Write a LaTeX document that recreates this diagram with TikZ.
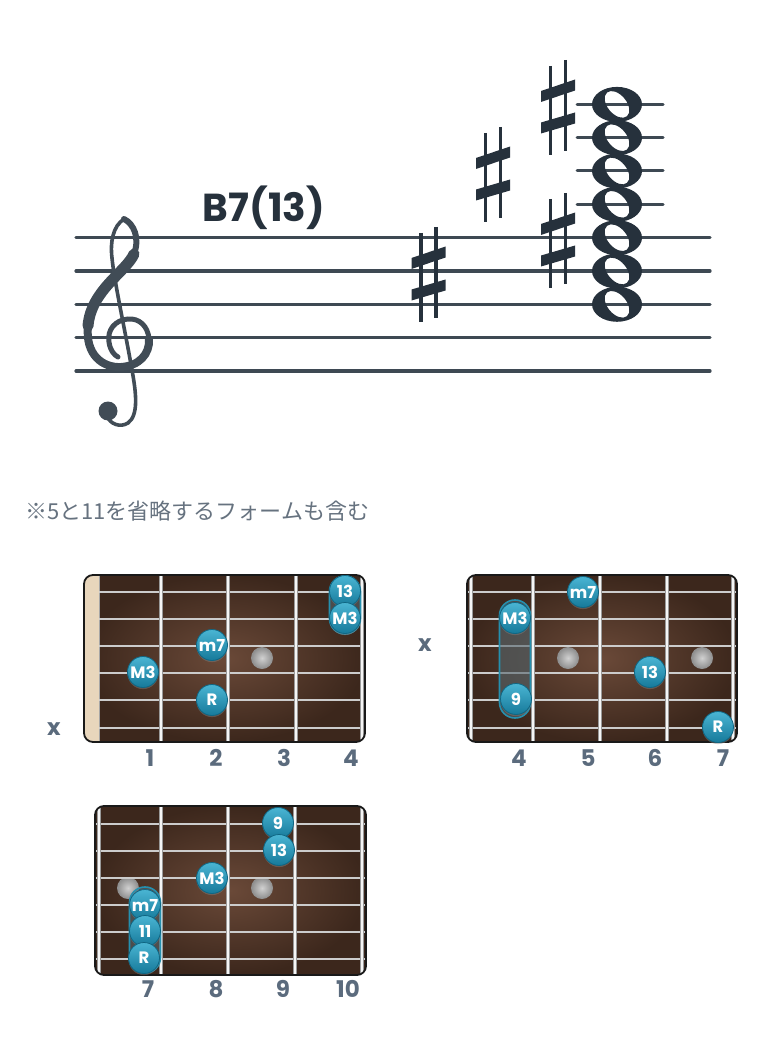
\documentclass[tikz,border=0pt]{standalone}
\usepackage{fontspec}
\newfontfamily\popfont{Poppins}
\newfontfamily\jpfont{Noto Sans CJK JP}
\usetikzlibrary{shadows}

\definecolor{ink}{HTML}{26313C}
\definecolor{staffgray}{HTML}{3E4953}
\definecolor{clefgray}{HTML}{414C56}
\definecolor{labelgray}{HTML}{5B6B7D}
\definecolor{notegray}{HTML}{66727F}
\definecolor{woodlight}{HTML}{6A4938}
\definecolor{wooddark}{HTML}{3C271C}
\definecolor{nutcream}{HTML}{E8D6BC}
\definecolor{tonetop}{HTML}{4AB5D3}
\definecolor{tonebottom}{HTML}{16799A}
\definecolor{toneedge}{HTML}{0F6683}
\definecolor{barreedge}{HTML}{2590AF}
\definecolor{barrefill}{HTML}{55666D}

\tikzset{
  staffline/.style={staffgray, line width=3.2pt, line cap=round},
  ledger/.style={staffgray, line width=3pt, line cap=round},
  sharpstem/.style={ink, line width=3.3pt},
  clefline/.style={clefgray, line cap=round},
  board/.style={rounded corners=9pt},
  boardedge/.style={board, draw=black!90, line width=1.8pt},
  gstring/.style={color=black!20, line width=2.4pt},
  fretwire/.style={draw=black!40, line width=0.9pt, double=white!96!black, double distance=2.4pt},
  inlay/.style={inner color=black!18, outer color=black!45},
  tone/.style={circle, minimum size=31pt, inner sep=0pt, top color=tonetop,
    bottom color=tonebottom, draw=toneedge, line width=0.8pt, text=white,
    font=\popfont\bfseries\fontsize{16.5}{16.5}\selectfont,
    drop shadow={shadow xshift=0pt, shadow yshift=-1.6pt, opacity=0.45}},
  barre/.style={rounded corners=15.4pt, fill=barrefill, fill opacity=0.6,
    draw=barreedge, line width=1.6pt},
  fretnum/.style={anchor=base, text=labelgray,
    font=\popfont\bfseries\fontsize{23}{23}\selectfont},
  mute/.style={anchor=base, text=labelgray,
    font=\popfont\bfseries\fontsize{23}{23}\selectfont}
}

\newcommand{\sharpsign}[2]{%
  \begin{scope}[shift={(#1,#2)}]
    \draw[sharpstem] (-7.5,-42) -- (-7.5,47);
    \draw[sharpstem] (7.5,-48) -- (7.5,43);
    \fill[ink] (-17,-17) -- (17,-28.5) -- (17,-17.5) -- (-17,-6) -- cycle;
    \fill[ink] (-17,14.5) -- (17,4.5) -- (17,15.5) -- (-17,25.5) -- cycle;
  \end{scope}}

\begin{document}
\begin{tikzpicture}[x=1pt,y=-1pt]
    \useasboundingbox (0,0) rectangle (780,1040);

    % -- Notenzeilen --
    \foreach \k in {0,...,4}
        \draw[staffline] (76,237.7+33.33*\k) -- (710,237.7+33.33*\k);

    % -- Violinschluessel --
    \draw[clefline, line width=3.6pt]
        (124,219) .. controls (113,226) and (110,242) .. (112,258)
        .. controls (114,280) and (125,330) .. (132,370)
        .. controls (136,392) and (139,415) .. (128,423)
        .. controls (120,428) and (110,424) .. (107,416);
    \fill[clefgray] (108,411) circle (9.5pt);
    \draw[clefline, line width=6pt]
        (124,219) .. controls (134,224) and (140,238) .. (134,254);
    \draw[clefline, line width=11pt]
        (134,254) .. controls (126,272) and (91,290) .. (88,326);
    \draw[clefline, line width=8pt]
        (88,326) .. controls (85,355) and (103,368) .. (121,367)
        .. controls (139,366) and (150,354) .. (149,339);
    \draw[clefline, line width=5pt]
        (149,339) .. controls (148,326) and (139,318) .. (128,319)
        .. controls (115,320) and (107,330) .. (109,342)
        .. controls (110,350) and (114,355) .. (118,357);

    % -- Titel --
    \node[anchor=base, text=ink, font=\popfont\bfseries\fontsize{39}{39}\selectfont]
        (title) at (264,222) {B7(13)};

    % -- Vorzeichen --
    \sharpsign{428.5}{275}
    \sharpsign{493}{175}
    \sharpsign{558}{108}
    \sharpsign{558}{241}

    % -- Hilfslinien und Noten --
    \foreach \y in {104.4,137.7,171,204.3}
        \draw[ledger] (577,\y) -- (663,\y);
    \foreach \y in {104.4,137.7,171,204.3,237.7,271,304.3}
        \fill[ink, even odd rule] (617,\y) ellipse [x radius=25pt, y radius=17.5pt]
            (617,\y) ellipse [x radius=9.5pt, y radius=15.5pt, rotate=40];

    % -- Hinweis --
    \node[anchor=base west, inner sep=0pt, text=notegray,
        font=\jpfont\fontsize{22}{22}\selectfont]
        (hint) at (25,519) {※5と11を省略するフォームも含む};

    % -- Griffbrett 1 --
    \begin{scope}
        \clip[board] (84,575) rectangle (365,742);
        \shade[inner color=woodlight, outer color=wooddark] (84,575) rectangle (365,742);
        \fill[nutcream] (84,575) rectangle (99,742);
        \draw[black!35, line width=1pt] (99,575) -- (99,742);
        \shade[inlay] (262,658) circle (11pt);
        \foreach \s in {592,619,646,673,700,728}
            \draw[gstring] (99,\s) -- (365,\s);
        \foreach \f in {161,228,296,362}
            \draw[fretwire] (\f,575) -- (\f,742);
    \end{scope}
    \draw[boardedge] (84,575) rectangle (365,742);
    \draw[barre] (329.5,576) rectangle (360.5,634);
    \node[tone] (bOneThirteen) at (345,591) {13};
    \node[tone] (bOneThirdHigh) at (345,618) {M3};
    \node[tone] (bOneSeventh) at (212,645) {m7};
    \node[tone] (bOneThird) at (143,672) {M3};
    \node[tone] (bOneRoot) at (212,700) {R};
    \node[mute] (bOneMute) at (54,735) {x};
    \node[fretnum] (bOneFretA) at (150,766) {1};
    \node[fretnum] (bOneFretB) at (216,766) {2};
    \node[fretnum] (bOneFretC) at (284,766) {3};
    \node[fretnum] (bOneFretD) at (351,766) {4};

    % -- Griffbrett 2 --
    \begin{scope}
        \clip[board] (467,575) rectangle (737,742);
        \shade[inner color=woodlight, outer color=wooddark] (467,575) rectangle (737,742);
        \shade[inlay] (568,658) circle (11pt);
        \shade[inlay] (702,658) circle (11pt);
        \foreach \s in {592,619,646,673,700,728}
            \draw[gstring] (467,\s) -- (737,\s);
        \foreach \f in {471,533,600,667,733}
            \draw[fretwire] (\f,575) -- (\f,742);
    \end{scope}
    \draw[boardedge] (467,575) rectangle (737,742);
    \draw[barre] (499.5,600) rectangle (530.5,718);
    \node[tone] (bTwoSeventh) at (583,592) {m7};
    \node[tone] (bTwoThird) at (515,618) {M3};
    \node[tone] (bTwoThirteen) at (650,672) {13};
    \node[tone] (bTwoNinth) at (516,699) {9};
    \node[tone] (bTwoRoot) at (718,727) {R};
    \node[mute] (bTwoMute) at (425,651) {x};
    \node[fretnum] (bTwoFretA) at (519,766) {4};
    \node[fretnum] (bTwoFretB) at (588,766) {5};
    \node[fretnum] (bTwoFretC) at (655,766) {6};
    \node[fretnum] (bTwoFretD) at (723,766) {7};

    % -- Griffbrett 3 --
    \begin{scope}
        \clip[board] (95,806) rectangle (366,975);
        \shade[inner color=woodlight, outer color=wooddark] (95,806) rectangle (366,975);
        \shade[inlay] (128,888) circle (11pt);
        \shade[inlay] (262,888) circle (11pt);
        \foreach \s in {824,851,878,905,932,959}
            \draw[gstring] (95,\s) -- (366,\s);
        \foreach \f in {99,161,228,295,362}
            \draw[fretwire] (\f,806) -- (\f,975);
    \end{scope}
    \draw[boardedge] (95,806) rectangle (366,975);
    \draw[barre] (129.5,887) rectangle (160.5,973);
    \node[tone] (bThreeNinth) at (278,823) {9};
    \node[tone] (bThreeThirteen) at (279,850) {13};
    \node[tone] (bThreeThird) at (212,878) {M3};
    \node[tone] (bThreeSeventh) at (145,905) {m7};
    \node[tone] (bThreeEleventh) at (145,931) {11};
    \node[tone] (bThreeRoot) at (144,958) {R};
    \node[fretnum] (bThreeFretA) at (148,997) {7};
    \node[fretnum] (bThreeFretB) at (216,997) {8};
    \node[fretnum] (bThreeFretC) at (283,997) {9};
    \node[fretnum] (bThreeFretD) at (348,997) {10};
\end{tikzpicture}
\end{document}
